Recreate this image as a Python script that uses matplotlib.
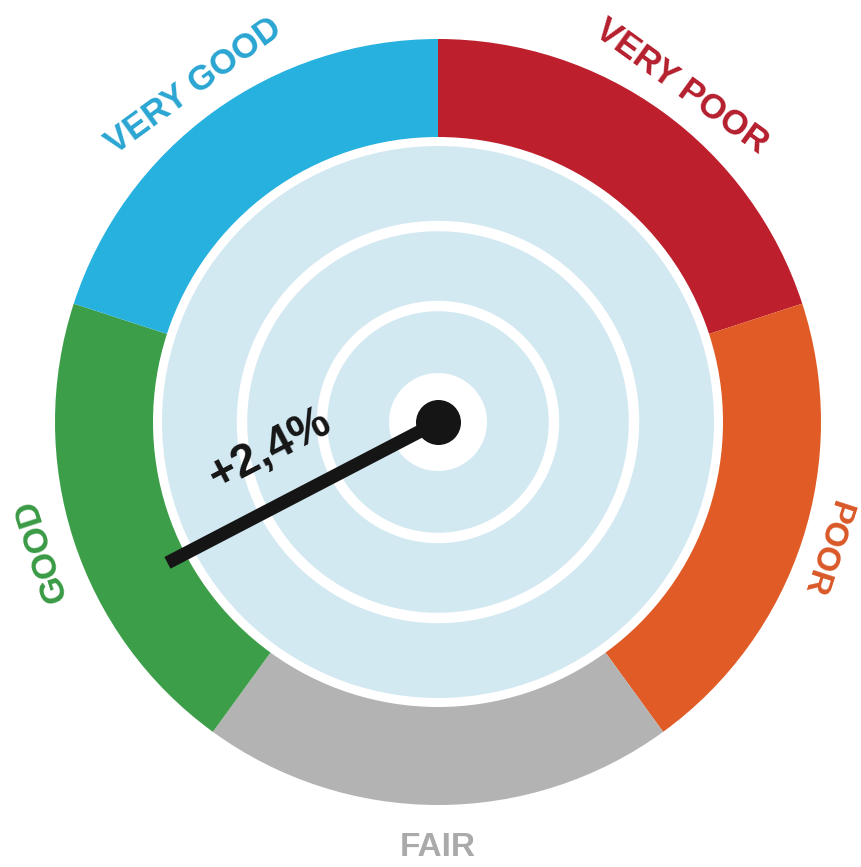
import numpy as np
import matplotlib
matplotlib.use("Agg")
import matplotlib.pyplot as plt

# ---- data ----
categories = ["VERY POOR", "POOR", "FAIR", "GOOD", "VERY GOOD"]
segment_span_deg = [72, 72, 72, 72, 72]           # clockwise from top
segment_colors = ["#bd1f2d", "#e05b25", "#b3b3b3", "#3c9e48", "#27b1df"]
label_colors = ["#b51f2e", "#d95828", "#aaaaaa", "#3a9a45", "#2aa5d2"]
needle_angle_deg = 242.5                            # clockwise from top
needle_label = "+2,4%"

# ---- style / geometry (pixels) ----
R_AX = 425
R_OUT = 383
R_RING_IN = 285
R_DISC = 276
ring_radii = [196, 116]
R_CENTER_WHITE = 49
label_radius = [415, 408, 426, 417, 415]
label_size = [25, 24, 24, 25, 25]

fig = plt.figure(figsize=(8.61, 8.67), dpi=100)
cx, cy = 438, 422
W, H = 861, 867
ax = fig.add_axes([(cx - R_AX) / W, (H - cy - R_AX) / H, 2 * R_AX / W, 2 * R_AX / H],
                  projection="polar")
ax.set_theta_zero_location("N")
ax.set_theta_direction(-1)
ax.set_ylim(0, R_AX)
ax.set_axis_off()

# colored ring
starts = np.cumsum([0] + segment_span_deg[:-1])
centers = np.deg2rad(starts + np.array(segment_span_deg) / 2)
widths = np.deg2rad(segment_span_deg)
ax.bar(centers, R_OUT - R_RING_IN, width=widths, bottom=R_RING_IN,
       color=segment_colors, linewidth=0, align="center")

# light blue disc
ax.bar(0, R_DISC, width=2 * np.pi, bottom=0, color="#d3e9f2", linewidth=0)

# white concentric rings
th = np.linspace(0, 2 * np.pi, 400)
for r in ring_radii:
    ax.plot(th, np.full_like(th, r), color="white", lw=7.5, solid_capstyle="butt")
ax.bar(0, R_CENTER_WHITE, width=2 * np.pi, bottom=0, color="white", linewidth=0)

# needle
t = np.deg2rad(needle_angle_deg)
ax.plot([t, t], [0, 305], color="#151515", lw=9.5, solid_capstyle="butt", zorder=5)
ax.scatter([0], [0], s=1050, color="#151515", zorder=6, linewidths=0)

# needle label (parallel to needle)
text_rot = (90 - needle_angle_deg) + 180
ax.text(np.deg2rad(260.5), 171, needle_label, rotation=text_rot,
        rotation_mode="anchor", ha="center", va="center", fontsize=33,
        fontweight="bold", family="Liberation Sans", color="#151515", zorder=7)

# category labels, tangent to the ring
for c, name, col, rl, fs in zip(np.rad2deg(centers), categories, label_colors,
                                label_radius, label_size):
    math_ang = (90 - c + 180) % 360 - 180
    if -135 < math_ang < -45:
        rotation = math_ang + 90
    else:
        rotation = math_ang - 90
    ax.text(np.deg2rad(c), rl, name, rotation=rotation, rotation_mode="anchor",
            ha="center", va="center", fontsize=fs, fontweight="bold",
            family="Liberation Sans", color=col, clip_on=False)

fig.savefig("out.png", dpi=100, facecolor="white")
